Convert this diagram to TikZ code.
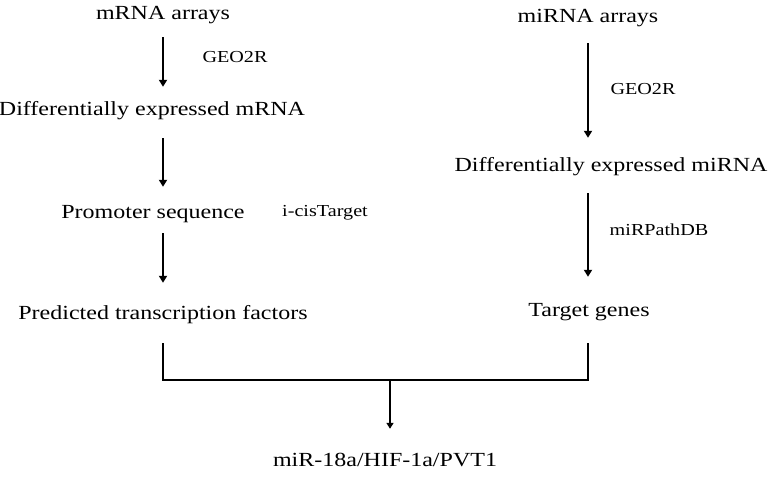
\documentclass[tikz,border=0pt]{standalone}
\usepackage{fontspec}
\setmainfont{Liberation Serif}[FakeStretch=1.2]
\usetikzlibrary{arrows.meta}
\usetikzlibrary{positioning}

\begin{document}
\begin{tikzpicture}[x=1pt,y=-1pt,
  stepnode/.style={font=\fontsize{20}{22}\selectfont, inner sep=0pt,
    text height=14pt, text depth=4.5pt, anchor=base},
  tool/.style={font=\fontsize{16.8}{19}\selectfont, inner sep=0pt, anchor=base},
  arr/.style={line width=2.2pt, -{Triangle[length=7pt,width=8pt]}},
  bar/.style={line width=2.8pt}]
\useasboundingbox (0,0) rectangle (769,478);
% left column
\node[stepnode] (mrna)   at (163,20)  {mRNA arrays};
\node[stepnode] (demrna) at (152,116) {Differentially expressed mRNA};
\node[stepnode] (prom)   at (153,219) {Promoter sequence};
\node[stepnode] (ptf)    at (163,320) {Predicted transcription factors};
\node[tool] (geo1)   at (235,63)  {GEO2R};
\node[tool] (cis)    at (325,217) {i-cisTarget};
% right column
\node[stepnode] (mirna)   at (588,23)  {miRNA arrays};
\node[stepnode] (demirna) at (611,172) {Differentially expressed miRNA};
\node[stepnode] (tg)      at (589,317) {Target genes};
\node[tool] (geo2)    at (643,95)  {GEO2R};
\node[tool] (mpdb)    at (659,236) {miRPathDB};
% result
\node[stepnode] (res) at (385,467) {miR-18a/HIF-1a/PVT1};

\draw[arr, shorten <=12.5pt, shorten >=15pt] (mrna.south) -- (mrna.south |- demrna.north);
\draw[arr, shorten <=17.5pt, shorten >=18pt] (mrna.south |- demrna.south) -- (mrna.south |- prom.north);
\draw[arr, shorten <=9.5pt, shorten >=23pt] (mrna.south |- prom.south) -- (mrna.south |- ptf.north);
\draw[arr, line width=2pt, shorten <=15.5pt, shorten >=20pt] (mirna.south) -- (mirna.south |- demirna.north);
\draw[arr, line width=2pt, shorten <=16.5pt, shorten >=26pt] (mirna.south |- demirna.south) -- (mirna.south |- tg.north);

\coordinate (join) at (390,380);
\draw[bar] (ptf.south) ++(0,18.5) |- (join) -| ([xshift=-1pt,yshift=-21.5pt]tg.south);
\draw[arr, line width=1.6pt, -{Triangle[length=6pt,width=7pt]}, shorten >=24pt] (join) -- (join |- res.north);
\end{tikzpicture}
\end{document}
